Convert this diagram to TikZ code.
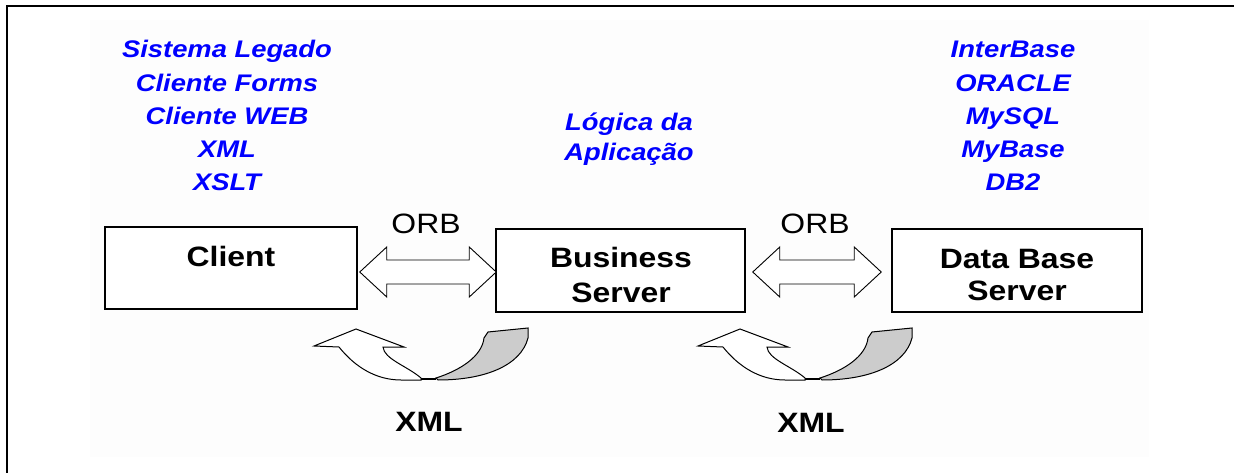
\documentclass[tikz,border=0pt]{standalone}
\usepackage{fontspec}
\usetikzlibrary{calc}
\newfontfamily\diagfont{Liberation Sans}[FakeStretch=1.14]
\definecolor{listblue}{RGB}{0,0,255}
\definecolor{loopgray}{RGB}{204,204,204}
\definecolor{panel}{RGB}{253,253,253}

% hollow two-headed arrow between two tip coordinates
\newcommand\orbarrow[2]{%
  \draw[orbshape] (#1) -- ($(#1)+(27,-25)$) -- ($(#1)+(27,-12)$)
    -- ($(#2)+(-27,-12)$) -- ($(#2)+(-27,-25)$) -- (#2)
    -- ($(#2)+(-27,25)$) -- ($(#2)+(-27,12)$)
    -- ($(#1)+(27,12)$) -- ($(#1)+(27,25)$) -- cycle;}

% twisted U-turn ribbon arrow (front face white, back face grey)
\newcommand\xmlloop{%
  \draw[loopfront] (698,346) -- (740,329) -- (788,347) -- (767,347)
    .. controls (768,359) and (791,366) .. (805,378) -- (805,380) -- (785,380)
    .. controls (760,380) and (739,367) .. (723,347) -- cycle;
  \draw[loopback] (820,378) .. controls (845,370) and (866,356) .. (868,338)
    -- (872,332) -- (912,328) -- (912,338)
    .. controls (905,365) and (870,380) .. (822,380) -- cycle;
  \draw[line width=2.6pt] (805,379) -- (820,379);}

\tikzset{
  framebox/.style={draw, line width=1.5pt, fill=white, inner sep=0pt},
  boxlabel/.style={anchor=base, inner sep=0pt, font=\diagfont\bfseries\fontsize{28}{34}\selectfont},
  orblabel/.style={anchor=base, inner sep=0pt, font=\diagfont\fontsize{28}{34}\selectfont},
  listlabel/.style={anchor=base, inner sep=0pt, text=listblue,
    font=\diagfont\bfseries\itshape\fontsize{24}{28}\selectfont},
  orbshape/.style={draw, line width=0.9pt, fill=white, line join=miter},
  loopfront/.style={draw, line width=1pt, fill=white},
  loopback/.style={draw, line width=1pt, fill=loopgray},
}

\begin{document}
\begin{tikzpicture}[x=1pt,y=-1pt]
\useasboundingbox (0,0) rectangle (1234,473);
\fill[white] (0,0) rectangle (1234,473);
\fill[panel] (90,20) rectangle (1149,457);

% outer frame (left and top edges)
\draw[line width=2.4pt] (7,473) -- (7,6) -- (1234,6);

% tiers
\node[framebox, minimum width=252pt, minimum height=82pt] (client) at (231,268) {};
\node[framebox, minimum width=249pt, minimum height=83pt] (business) at (620.5,270.5) {};
\node[framebox, minimum width=250pt, minimum height=83pt] (database) at (1017,270.5) {};

\node[boxlabel] (clientA) at (231,266) {Client};
\node[boxlabel] (businessA) at (621,267) {Business};
\node[boxlabel] (businessB) at (621,302.5) {Server};
\node[boxlabel] (databaseA) at (1017,268) {Data Base};
\node[boxlabel] (databaseB) at (1017,300) {Server};

% ORB links
\coordinate (orbline) at (0,272);
\coordinate (tipA) at ($(client.east |- orbline)+(2,0)$);
\coordinate (tipB) at ($(business.west |- orbline)+(1,0)$);
\coordinate (tipC) at ($(business.east |- orbline)+(7,0)$);
\coordinate (tipD) at ($(database.west |- orbline)+(-10,0)$);
\orbarrow{tipA}{tipB}
\orbarrow{tipC}{tipD}
\node[orblabel] (orbA) at (426,233.5) {ORB};
\node[orblabel] (orbB) at (815,233.5) {ORB};

% XML exchange loops
\begin{scope}[xshift=-384pt]
  \xmlloop
\end{scope}
\xmlloop
\node[boxlabel] (xmlA) at (429,431) {XML};
\node[boxlabel] (xmlB) at (811,432) {XML};

% technologies per tier
\foreach \t [count=\i] in {Sistema Legado, Cliente Forms, Cliente WEB, XML, XSLT}
  \node[listlabel] (front\i) at (227,{58+33.25*(\i-1)}) {\t};
\foreach \t [count=\i] in {InterBase, ORACLE, MySQL, MyBase, DB2}
  \node[listlabel] (store\i) at (1013,{58+33.25*(\i-1)}) {\t};
\node[listlabel] (logicA) at (629,130.3) {Lógica da};
\node[listlabel] (logicB) at (629,160.6) {Aplicação};
\end{tikzpicture}
\end{document}
